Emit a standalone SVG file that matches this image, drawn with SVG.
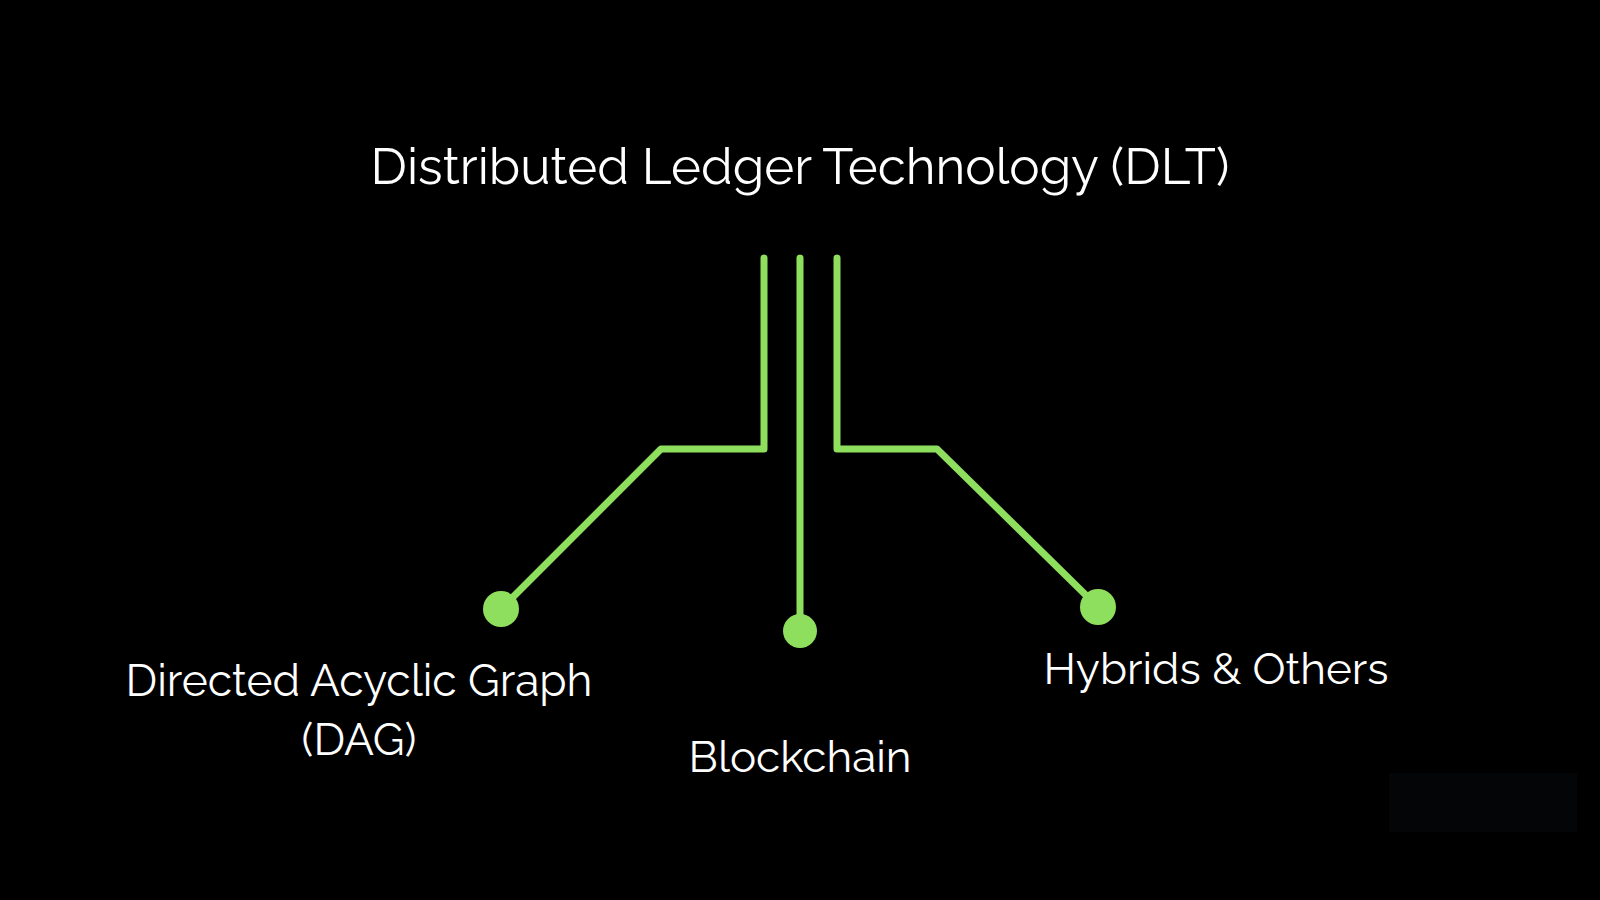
<svg xmlns="http://www.w3.org/2000/svg" width="1600" height="900" viewBox="0 0 1600 900">
<style>
.wire{fill:none;stroke:#8fdf5f;stroke-width:7;stroke-linecap:round;stroke-linejoin:round}
.dot{fill:#8fdf5f}
.lbl{font-family:Raleway,Lato,"Open Sans","Liberation Sans",sans-serif;fill:#ffffff;text-anchor:middle}
</style>
<rect width="1600" height="900" fill="#000000"/>
<rect x="1389" y="773" width="188" height="59" fill="#030506"/>
<g id="title"><text class="lbl" x="800" y="184" font-size="51">Distributed Ledger Technology (DLT)</text></g>
<g id="connectors">
<polyline class="wire" points="764,258 764,449 661,449 501,609"/>
<polyline class="wire" points="800,258 800,631"/>
<polyline class="wire" points="837,258 837,449 937,449 1098,607"/>
</g>
<g id="dag"><circle class="dot" cx="501" cy="609" r="18"/><text class="lbl" x="359" y="696" font-size="44.3">Directed Acyclic Graph</text><text class="lbl" x="359" y="755" font-size="44.3">(DAG)</text></g>
<g id="blockchain"><circle class="dot" cx="800" cy="631" r="17"/><text class="lbl" x="800" y="772" font-size="44">Blockchain</text></g>
<g id="hybrids"><circle class="dot" cx="1098" cy="607" r="18"/><text class="lbl" x="1216" y="684" font-size="44">Hybrids &amp; Others</text></g>
</svg>
